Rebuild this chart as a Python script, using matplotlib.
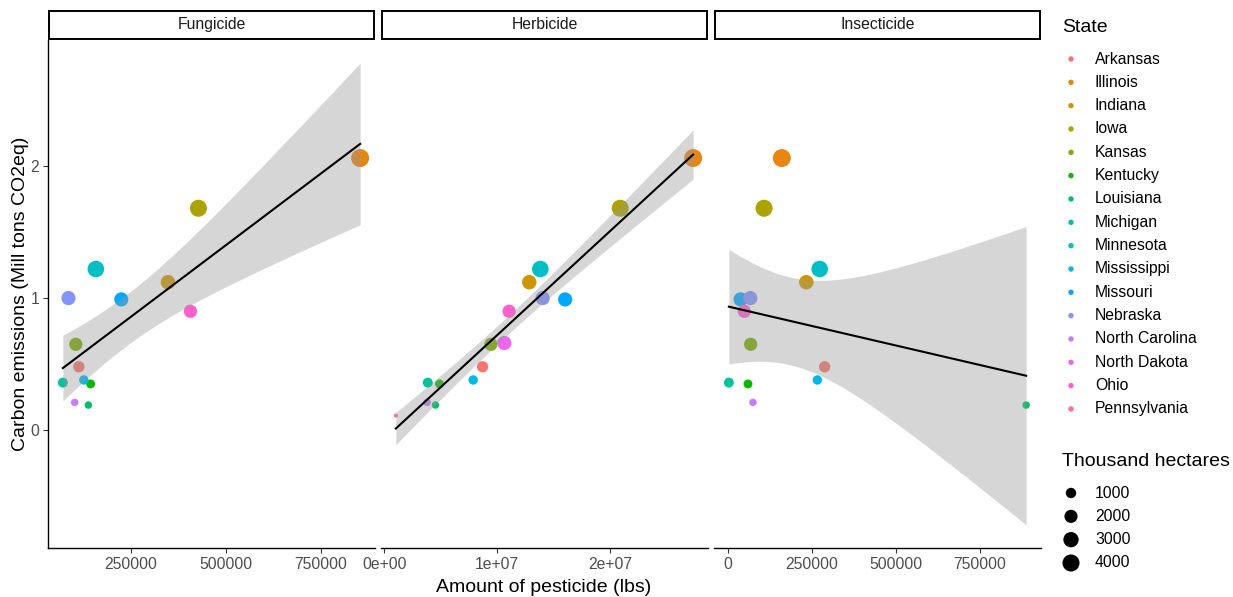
import numpy as np
import matplotlib
matplotlib.use("Agg")
import matplotlib.pyplot as plt

plt.rcParams["font.family"] = ["Liberation Sans", "DejaVu Sans"]

# ---- data ----
STATES = ["Arkansas", "Illinois", "Indiana", "Iowa", "Kansas", "Kentucky",
          "Louisiana", "Michigan", "Minnesota", "Mississippi", "Missouri",
          "Nebraska", "North Carolina", "North Dakota", "Ohio", "Pennsylvania"]
COLORS = ["#F8766D", "#E68613", "#CD9600", "#ABA300", "#7CAE00", "#0CB702",
          "#00BE67", "#00C19A", "#00BFC4", "#00B8E7", "#00A9FF", "#8494FF",
          "#C77CFF", "#ED68ED", "#FF61CC", "#FF68A1"]
EMISSIONS = [0.48, 2.06, 1.12, 1.68, 0.65, 0.35, 0.19, 0.36, 1.22, 0.38,
             0.99, 1.00, 0.21, 0.66, 0.90, 0.11]
HECTARES = [1300, 4580, 2590, 3990, 2030, 620, 340, 860, 3710, 740,
            2450, 2450, 340, 2450, 2030, 60]
NA = np.nan
FUNGICIDE_LBS = [114000, 852600, 348000, 428000, 106000, 145000, 139000, 72000,
                 158700, 127000, 225500, 86800, 103000, NA, 407000, NA]
HERBICIDE_LBS = [8.72e6, 2.738e7, 1.286e7, 2.092e7, 9.46e6, 4.91e6, 4.55e6, 3.87e6,
                 1.384e7, 7.89e6, 1.604e7, 1.405e7, 3.81e6, 1.065e7, 1.107e7, 1.04e6]
INSECTICIDE_LBS = [288000, 160000, 233000, 107000, 67000, 59000, 889000, 2000,
                   273000, 266000, 37000, 66000, 74000, NA, 48000, NA]

PESTICIDES = ["Fungicide", "Herbicide", "Insecticide"]
XTICKS = [[250000, 500000, 750000], [0, 1e7, 2e7], [0, 250000, 500000, 750000]]
XTICKLABELS = [["250000", "500000", "750000"], ["0e+00", "1e+07", "2e+07"],
               ["0", "250000", "500000", "750000"]]
YTICKS = [0, 1, 2]
SIZE_BREAKS = [1000, 2000, 3000, 4000]
T975 = {12: 2.178813, 13: 2.160369, 14: 2.144787}

W, H, DPI = 1233, 597, 100


def box(x0, y0, x1, y1):
    return [x0 / W, 1 - y1 / H, (x1 - x0) / W, (y1 - y0) / H]


def point_area(h):
    # ggplot-like area scale, range 1..6, converted to matplotlib points^2
    hmin, hmax = min(HECTARES), max(HECTARES)
    size = 1 + 5 * np.sqrt((np.asarray(h, float) - hmin) / (hmax - hmin))
    d_px = 1.2 + 2.8 * size
    return (d_px * 72 / DPI) ** 2


def lm_band(x, y):
    n = len(x)
    xb = x.mean()
    sxx = ((x - xb) ** 2).sum()
    b = ((x - xb) * (y - y.mean())).sum() / sxx
    a = y.mean() - b * xb
    s = np.sqrt(((y - a - b * x) ** 2).sum() / (n - 2))
    g = np.linspace(x.min(), x.max(), 80)
    fit = a + b * g
    se = s * np.sqrt(1 / n + (g - xb) ** 2 / sxx)
    t = T975[n - 2]
    return g, fit, fit - t * se, fit + t * se


series = [FUNGICIDE_LBS, HERBICIDE_LBS, INSECTICIDE_LBS]
emis = np.array(EMISSIONS)
bands = []
for xs in series:
    xs = np.array(xs, float)
    ok = ~np.isnan(xs)
    bands.append(lm_band(xs[ok], emis[ok]))

lo = min(min(b[2].min() for b in bands), emis.min())
hi = max(max(b[3].max() for b in bands), emis.max())
pad = (hi - lo) * 0.05
ylim = (lo - pad, hi + pad)

fig = plt.figure(figsize=(W / DPI, H / DPI), dpi=DPI)
panels = [(48, 40, 375, 548), (381, 40, 708, 548), (714, 40, 1041, 548)]
tick_col = "#4D4D4D"

for i, (name, xs) in enumerate(zip(PESTICIDES, series)):
    x0, y0, x1, y1 = panels[i]
    ax = fig.add_axes(box(x0, y0, x1, y1))
    xs = np.array(xs, float)
    ok = ~np.isnan(xs)
    ax.scatter(xs[ok], emis[ok], s=point_area(np.array(HECTARES)[ok]),
               c=np.array(COLORS)[ok], linewidths=0, zorder=2)
    g, fit, blo, bhi = bands[i]
    ax.fill_between(g, blo, bhi, color="#999999", alpha=0.4, lw=0, zorder=3)
    ax.plot(g, fit, color="black", lw=1.5, zorder=4)
    ax.set_ylim(ylim)
    ax.margins(x=0.05)
    ax.set_xticks(XTICKS[i])
    ax.set_xticklabels(XTICKLABELS[i])
    for sp in ["top", "right"]:
        ax.spines[sp].set_visible(False)
    ax.spines["bottom"].set_linewidth(1.0)
    ax.tick_params(axis="both", length=3.5, width=0.8, color="#333333",
                   labelcolor=tick_col, labelsize=11.3, pad=2.8)
    if i == 0:
        ax.set_yticks(YTICKS)
        ax.spines["left"].set_linewidth(1.0)
    else:
        ax.spines["left"].set_visible(False)
        ax.set_yticks([])

    # facet strip
    sx = fig.add_axes(box(x0 + 1, 11, x1 - 1, 38.5))
    sx.set_xticks([]); sx.set_yticks([])
    for sp in sx.spines.values():
        sp.set_linewidth(1.4)
    sx.text(0.5, 0.5, name, ha="center", va="center", fontsize=11.3,
            color="#1A1A1A", transform=sx.transAxes)

fig.text(544 / W, 1 - 587 / H, "Amount of pesticide (lbs)", ha="center",
         va="center", fontsize=14)
fig.text(21 / W, 1 - 294 / H, "Carbon emissions (Mill tons CO2eq)", ha="center",
         va="center", rotation=90, fontsize=14)

# ---- legends (pixel coordinates) ----
lg = fig.add_axes(box(1045, 0, W, H))
lg.set_xlim(1045, W); lg.set_ylim(H, 0); lg.axis("off")
lg.text(1062, 28, "State", fontsize=14, va="center", ha="left")
ys = 59 + 23.33 * np.arange(len(STATES))
lg.scatter(np.full(len(STATES), 1071), ys, s=(5.4 * 0.72) ** 2, c=COLORS, lw=0)
for y, st in zip(ys, STATES):
    lg.text(1095, y, st, fontsize=11.3, va="center", ha="left")

lg.text(1062, 462, "Thousand hectares", fontsize=14, va="center", ha="left")
ys2 = 493 + 23.33 * np.arange(len(SIZE_BREAKS))
lg.scatter(np.full(len(SIZE_BREAKS), 1071), ys2, s=point_area(SIZE_BREAKS),
           c="black", lw=0)
for y, v in zip(ys2, SIZE_BREAKS):
    lg.text(1095, y, str(v), fontsize=11.3, va="center", ha="left")

fig.savefig("out.png", dpi=DPI)
